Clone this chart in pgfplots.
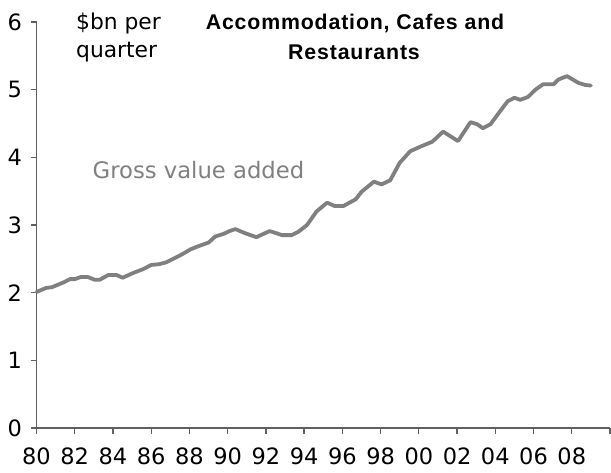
\documentclass[border=0pt]{standalone}
\usepackage{fontspec}
\setmainfont{DejaVu Sans}
\newfontfamily\titlefont[LetterSpace=4]{Liberation Sans}
\usepackage{pgfplots}
\pgfplotsset{compat=1.18}
\definecolor{lgray}{HTML}{808080}
\definecolor{agray}{HTML}{606060}

\pgfplotstableread{
year value
1980.00 2.01
1980.50 2.07
1980.80 2.08
1981.40 2.15
1981.75 2.20
1982.00 2.20
1982.30 2.23
1982.70 2.23
1983.05 2.19
1983.30 2.19
1983.75 2.26
1984.20 2.26
1984.50 2.22
1985.05 2.29
1985.60 2.35
1986.00 2.41
1986.40 2.42
1986.80 2.45
1987.30 2.52
1987.70 2.58
1988.05 2.64
1988.50 2.69
1989.00 2.74
1989.35 2.83
1989.80 2.87
1990.10 2.91
1990.40 2.94
1990.90 2.88
1991.50 2.82
1992.20 2.91
1992.85 2.85
1993.35 2.85
1993.70 2.90
1994.15 3.00
1994.65 3.20
1995.20 3.33
1995.60 3.28
1996.05 3.28
1996.70 3.38
1997.00 3.49
1997.65 3.64
1998.05 3.60
1998.50 3.66
1999.00 3.92
1999.55 4.09
2000.10 4.16
2000.70 4.23
2001.27 4.38
2002.05 4.24
2002.70 4.52
2003.05 4.49
2003.35 4.43
2003.75 4.49
2004.30 4.70
2004.65 4.83
2005.00 4.88
2005.30 4.85
2005.70 4.89
2006.10 5.00
2006.50 5.08
2007.05 5.08
2007.30 5.15
2007.75 5.20
2008.35 5.10
2008.70 5.07
2009.00 5.06
}\gva

\begin{document}
\begin{tikzpicture}
\begin{axis}[
  at={(36.5pt,45pt)},anchor=south west,
  scale only axis,width=573.5pt,height=406pt,
  xmin=1980,xmax=2010,ymin=0,ymax=6,
  axis x line=bottom,axis y line=left,
  axis line style={-,draw=agray,line width=1.1pt},
  xmajorticks=true,ymajorticks=true,
  xtick pos=lower,ytick pos=lower,
  tick align=outside,
  major tick length=6pt,
  tick style={draw=agray,line width=1.3pt},
  xtick={1980,1982,...,2010},
  xticklabels={80,82,84,86,88,90,92,94,96,98,00,02,04,06,08,},
  ytick={0,1,...,6},
  ticklabel style={font=\fontsize{22.5}{22.5}\selectfont,text=black},
  /pgf/number format/assume math mode=true,
  xticklabel style={yshift=-10pt},
  yticklabel style={xshift=-5pt},
  clip=false,
]
\addplot[lgray,line width=3.8pt,line join=round,line cap=round] table[x=year,y=value] {\gva};
\end{axis}
\node[anchor=base west,inner sep=0pt,font=\fontsize{21.8}{21.8}\selectfont] at (76pt,443pt) {\$bn per};
\node[anchor=base west,inner sep=0pt,font=\fontsize{21.8}{21.8}\selectfont] at (76pt,415pt) {quarter};
\node[anchor=base,inner sep=0pt,font=\titlefont\fontsize{21.3}{21.3}\selectfont\bfseries] at (355pt,443pt) {Accommodation, Cafes and};
\node[anchor=base,inner sep=0pt,font=\titlefont\fontsize{21.3}{21.3}\selectfont\bfseries] at (354pt,413pt) {Restaurants};
\node[anchor=base west,inner sep=0pt,font=\fontsize{22.7}{22.7}\selectfont,text=lgray] at (92.5pt,294pt) {Gross value added};
\pgfresetboundingbox
\path[use as bounding box] (0pt,0pt) rectangle (611pt,473pt);
\end{tikzpicture}
\end{document}
